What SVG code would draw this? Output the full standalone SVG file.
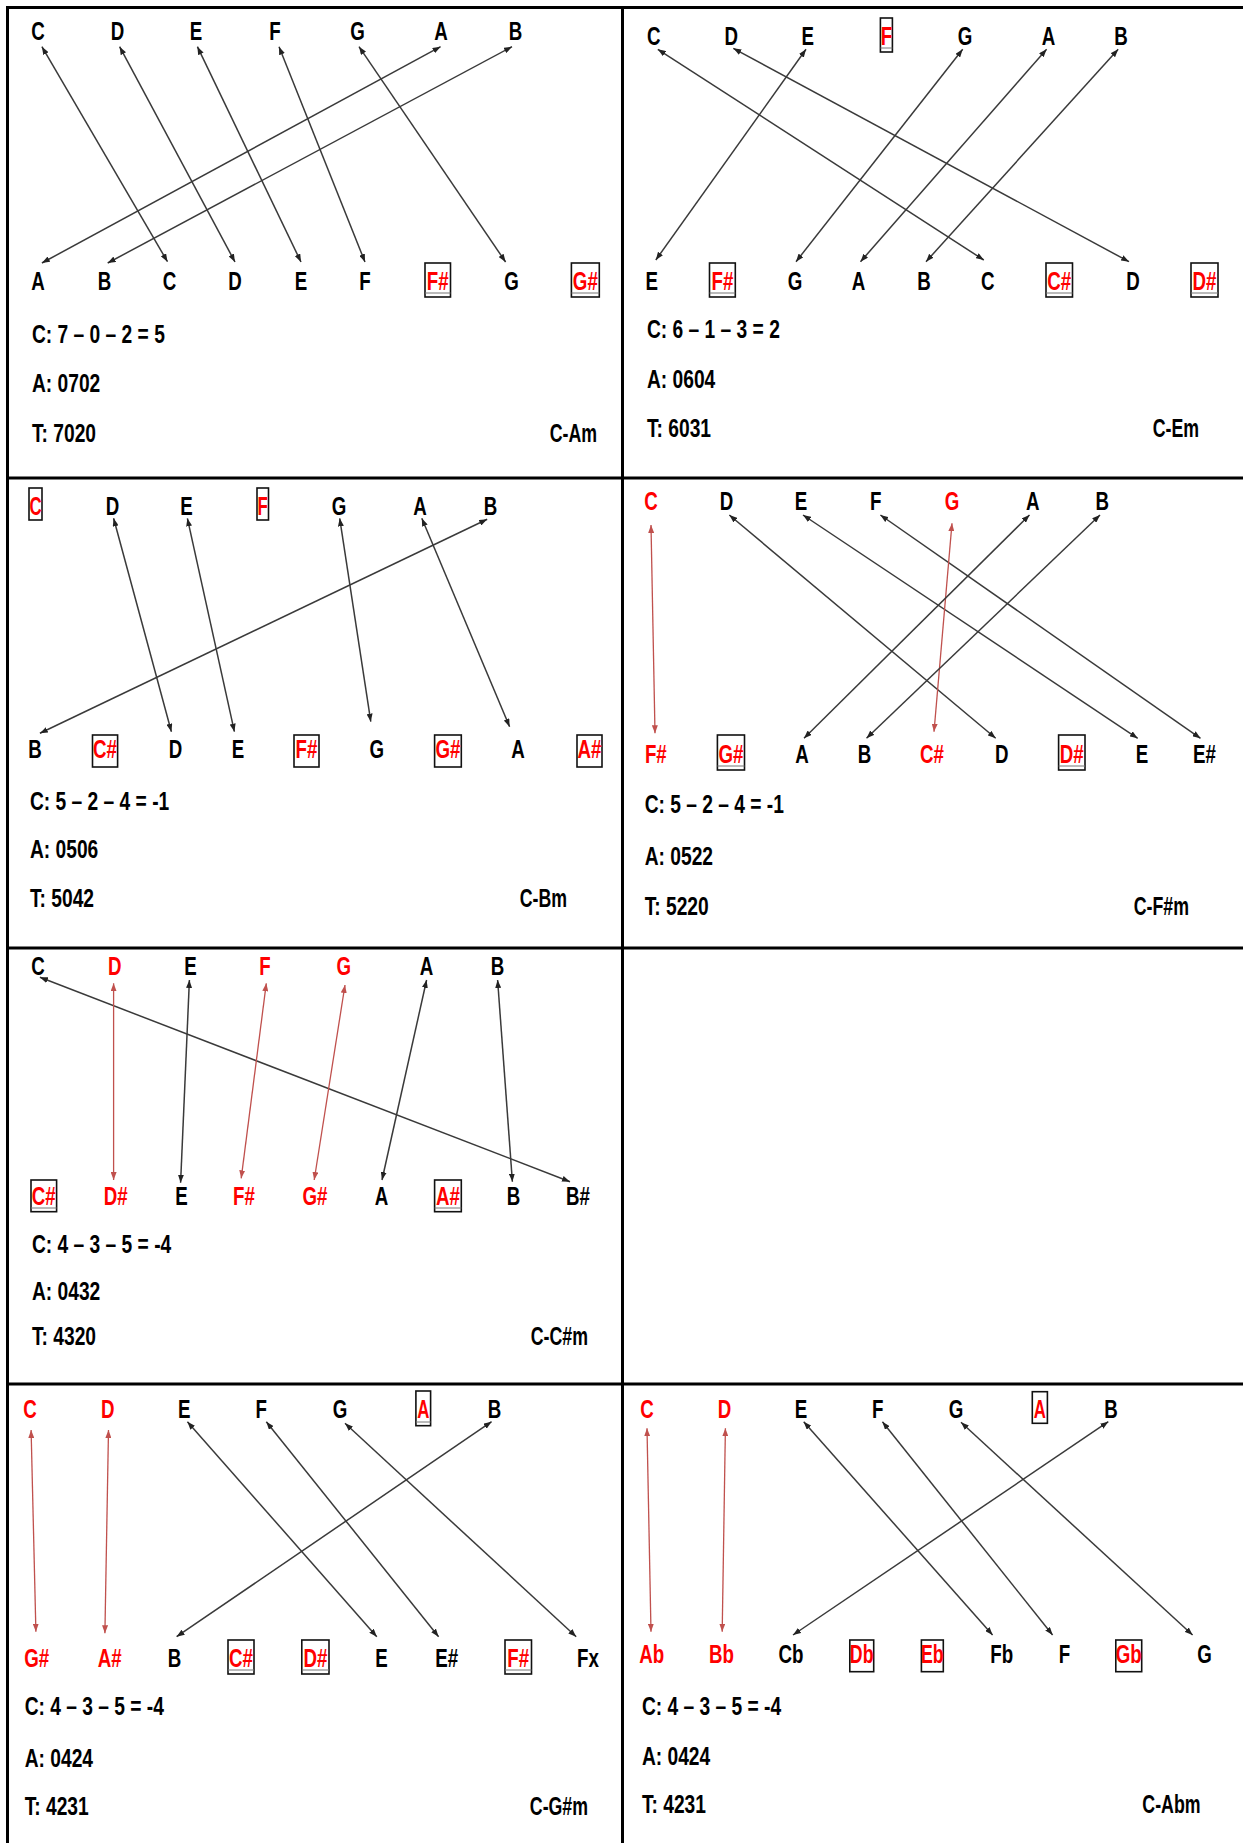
<svg xmlns="http://www.w3.org/2000/svg" width="1243" height="1843" viewBox="0 0 1243 1843">
<style>
text{font-family:"Liberation Sans",Arial,sans-serif;font-weight:bold;font-size:24px;fill:#000}
.n{text-anchor:middle}
.r{fill:#ff0000}
.e{text-anchor:end}
.bx{fill:none;stroke:#111;stroke-width:1.6}
.db{stroke:#777;stroke-width:1}
.c{stroke:#3a3a3a;stroke-width:1.5;fill:none;marker-start:url(#ah);marker-end:url(#ah)}
.cr{stroke:#c0504d;stroke-width:1.3;fill:none;marker-start:url(#ahr);marker-end:url(#ahr)}
.grid{stroke:#000;stroke-width:3;fill:none}
</style>
<defs>
<marker id="ah" viewBox="0 0 8 6" refX="8" refY="3" markerWidth="8" markerHeight="6" markerUnits="userSpaceOnUse" orient="auto-start-reverse"><path d="M0,0 L8,3 L0,6 z" fill="#222"/></marker>
<marker id="ahr" viewBox="0 0 8 6" refX="8" refY="3" markerWidth="8" markerHeight="6" markerUnits="userSpaceOnUse" orient="auto-start-reverse"><path d="M0,0 L8,3 L0,6 z" fill="#c0504d"/></marker>
</defs>
<rect width="1243" height="1843" fill="#fff"/>
<g id="grid" class="grid">
<line x1="7.5" y1="6" x2="7.5" y2="1843"/>
<line x1="6" y1="7.5" x2="1243" y2="7.5"/>
<line x1="622.5" y1="6" x2="622.5" y2="1843"/>
<line x1="6" y1="478" x2="1243" y2="478"/>
<line x1="6" y1="948" x2="1243" y2="948"/>
<line x1="6" y1="1384" x2="1243" y2="1384"/>
</g>
<g id="connectors">
<line class="c" x1="41.9" y1="46.7" x2="167.5" y2="261.7"/>
<line class="c" x1="119.6" y1="46.7" x2="235" y2="262"/>
<line class="c" x1="197.4" y1="46.7" x2="301" y2="262"/>
<line class="c" x1="279" y1="46.7" x2="365" y2="262"/>
<line class="c" x1="359" y1="46.7" x2="505.6" y2="262"/>
<line class="c" x1="440.6" y1="46.7" x2="41.9" y2="263"/>
<line class="c" x1="512" y1="46.7" x2="107.7" y2="263"/>
<line class="c" x1="657.8" y1="49.3" x2="983.8" y2="260"/>
<line class="c" x1="733.3" y1="48.3" x2="1129" y2="261.7"/>
<line class="c" x1="806" y1="49.3" x2="655.8" y2="260"/>
<line class="c" x1="962.7" y1="49.3" x2="796" y2="261.7"/>
<line class="c" x1="1046.6" y1="49.3" x2="860.5" y2="261.7"/>
<line class="c" x1="1118.2" y1="49.3" x2="926" y2="261.7"/>
<line class="c" x1="113.6" y1="518.3" x2="171.4" y2="731.7"/>
<line class="c" x1="187.4" y1="518.3" x2="234.4" y2="731.7"/>
<line class="c" x1="339.7" y1="518.3" x2="370.8" y2="721.7"/>
<line class="c" x1="421.8" y1="518.3" x2="509.6" y2="726.7"/>
<line class="c" x1="487.2" y1="519.3" x2="39.9" y2="733.3"/>
<line class="cr" x1="651" y1="525" x2="655" y2="733.3"/>
<line class="c" x1="729.3" y1="515" x2="995.7" y2="738.3"/>
<line class="c" x1="803" y1="515" x2="1137.7" y2="738.3"/>
<line class="c" x1="880.4" y1="515" x2="1200.5" y2="738.3"/>
<line class="cr" x1="952" y1="523.3" x2="934" y2="731.7"/>
<line class="c" x1="1029.5" y1="515" x2="804" y2="738.3"/>
<line class="c" x1="1100" y1="515" x2="866.5" y2="738.3"/>
<line class="c" x1="39.9" y1="977.3" x2="570" y2="1181.7"/>
<line class="cr" x1="113.6" y1="983.3" x2="113.6" y2="1180"/>
<line class="c" x1="189.4" y1="980" x2="180.6" y2="1182.7"/>
<line class="cr" x1="266.3" y1="983.3" x2="241.2" y2="1178.3"/>
<line class="cr" x1="345" y1="985" x2="314.2" y2="1180"/>
<line class="c" x1="426.6" y1="980" x2="382" y2="1180"/>
<line class="c" x1="497.6" y1="980" x2="512.4" y2="1181.7"/>
<line class="cr" x1="31.1" y1="1430" x2="35.9" y2="1631.7"/>
<line class="cr" x1="108.5" y1="1430" x2="104.9" y2="1633.3"/>
<line class="c" x1="187.4" y1="1421.7" x2="376.8" y2="1636.7"/>
<line class="c" x1="266.3" y1="1421.7" x2="438.6" y2="1636.7"/>
<line class="c" x1="345" y1="1423.3" x2="576.2" y2="1636.7"/>
<line class="c" x1="491.6" y1="1421.7" x2="176.6" y2="1636.7"/>
<line class="cr" x1="647" y1="1428.3" x2="651" y2="1631.7"/>
<line class="cr" x1="725.4" y1="1428.3" x2="722.2" y2="1631.7"/>
<line class="c" x1="803.7" y1="1421.7" x2="992.6" y2="1635"/>
<line class="c" x1="882.4" y1="1421.7" x2="1052.6" y2="1635"/>
<line class="c" x1="961" y1="1422.3" x2="1192.6" y2="1635"/>
<line class="c" x1="1108.3" y1="1421.7" x2="793" y2="1635"/>
</g>
<g id="panel-C-Am">
<g id="am-t-C"><text class="n" transform="translate(38,40) scale(.78,1.05)">C</text></g>
<g id="am-t-D"><text class="n" transform="translate(117.6,40) scale(.78,1.05)">D</text></g>
<g id="am-t-E"><text class="n" transform="translate(196,40) scale(.78,1.05)">E</text></g>
<g id="am-t-F"><text class="n" transform="translate(275,40) scale(.78,1.05)">F</text></g>
<g id="am-t-G"><text class="n" transform="translate(357.6,40) scale(.78,1.05)">G</text></g>
<g id="am-t-A"><text class="n" transform="translate(441,40) scale(.78,1.05)">A</text></g>
<g id="am-t-B"><text class="n" transform="translate(515.5,40) scale(.78,1.05)">B</text></g>
<g id="am-b-A"><text class="n" transform="translate(38,290) scale(.78,1.05)">A</text></g>
<g id="am-b-B"><text class="n" transform="translate(104.5,290) scale(.78,1.05)">B</text></g>
<g id="am-b-C"><text class="n" transform="translate(169.5,290) scale(.78,1.05)">C</text></g>
<g id="am-b-D"><text class="n" transform="translate(235,290) scale(.78,1.05)">D</text></g>
<g id="am-b-E"><text class="n" transform="translate(301,290) scale(.78,1.05)">E</text></g>
<g id="am-b-F"><text class="n" transform="translate(365,290) scale(.78,1.05)">F</text></g>
<g id="am-b-Fs"><rect class="bx" x="425" y="263" width="25.5" height="34"/><line class="db" x1="425" y1="293" x2="450.5" y2="293"/><text class="n r" transform="translate(437.7,290) scale(.78,1.05)">F#</text></g>
<g id="am-b-G"><text class="n" transform="translate(511.6,290) scale(.78,1.05)">G</text></g>
<g id="am-b-Gs"><rect class="bx" x="571.4" y="263" width="27.9" height="34"/><line class="db" x1="571.4" y1="293" x2="599.3" y2="293"/><text class="n r" transform="translate(585.3,290) scale(.78,1.05)">G#</text></g>
<text transform="translate(32,343) scale(.8,1.05)">C: 7 – 0 – 2 = 5</text>
<text transform="translate(32,392) scale(.8,1.05)">A: 0702</text>
<text transform="translate(32,442) scale(.8,1.05)">T: 7020</text>
<text class="e" transform="translate(597,442) scale(.74,1.05)">C-Am</text>
</g>
<g id="panel-C-Em">
<g id="em-t-C"><text class="n" transform="translate(653.8,45) scale(.78,1.05)">C</text></g>
<g id="em-t-D"><text class="n" transform="translate(731.3,45) scale(.78,1.05)">D</text></g>
<g id="em-t-E"><text class="n" transform="translate(807.7,45) scale(.78,1.05)">E</text></g>
<g id="em-t-F"><rect class="bx" x="880.4" y="18" width="12" height="34"/><line class="db" x1="880.4" y1="48" x2="892.4" y2="48"/><text class="n r" transform="translate(886.4,45) scale(.78,1.05)">F</text></g>
<g id="em-t-G"><text class="n" transform="translate(965,45) scale(.78,1.05)">G</text></g>
<g id="em-t-A"><text class="n" transform="translate(1048.6,45) scale(.78,1.05)">A</text></g>
<g id="em-t-B"><text class="n" transform="translate(1121,45) scale(.78,1.05)">B</text></g>
<g id="em-b-E"><text class="n" transform="translate(651.8,290) scale(.78,1.05)">E</text></g>
<g id="em-b-Fs"><rect class="bx" x="709.5" y="263" width="25.8" height="34"/><line class="db" x1="709.5" y1="293" x2="735.3" y2="293"/><text class="n r" transform="translate(722.4,290) scale(.78,1.05)">F#</text></g>
<g id="em-b-G"><text class="n" transform="translate(795,290) scale(.78,1.05)">G</text></g>
<g id="em-b-A"><text class="n" transform="translate(858.6,290) scale(.78,1.05)">A</text></g>
<g id="em-b-B"><text class="n" transform="translate(924,290) scale(.78,1.05)">B</text></g>
<g id="em-b-C"><text class="n" transform="translate(987.8,290) scale(.78,1.05)">C</text></g>
<g id="em-b-Cs"><rect class="bx" x="1046" y="263" width="26.5" height="34"/><line class="db" x1="1046" y1="293" x2="1072.5" y2="293"/><text class="n r" transform="translate(1059.3,290) scale(.78,1.05)">C#</text></g>
<g id="em-b-D"><text class="n" transform="translate(1133,290) scale(.78,1.05)">D</text></g>
<g id="em-b-Ds"><rect class="bx" x="1191" y="263" width="27" height="34"/><line class="db" x1="1191" y1="293" x2="1218" y2="293"/><text class="n r" transform="translate(1204.5,290) scale(.78,1.05)">D#</text></g>
<text transform="translate(647,338) scale(.8,1.05)">C: 6 – 1 – 3 = 2</text>
<text transform="translate(647,388) scale(.8,1.05)">A: 0604</text>
<text transform="translate(647,437) scale(.8,1.05)">T: 6031</text>
<text class="e" transform="translate(1199,437) scale(.74,1.05)">C-Em</text>
</g>
<g id="panel-C-Bm">
<g id="bm-t-C"><rect class="bx" x="29" y="488" width="13" height="32"/><text class="n r" transform="translate(35.5,515) scale(.7,1.05)">C</text></g>
<g id="bm-t-D"><text class="n" transform="translate(112.4,515) scale(.78,1.05)">D</text></g>
<g id="bm-t-E"><text class="n" transform="translate(186.6,515) scale(.78,1.05)">E</text></g>
<g id="bm-t-F"><rect class="bx" x="257" y="488" width="11.5" height="32"/><text class="n r" transform="translate(262.7,515) scale(.7,1.05)">F</text></g>
<g id="bm-t-G"><text class="n" transform="translate(339,515) scale(.78,1.05)">G</text></g>
<g id="bm-t-A"><text class="n" transform="translate(420,515) scale(.78,1.05)">A</text></g>
<g id="bm-t-B"><text class="n" transform="translate(490.4,515) scale(.78,1.05)">B</text></g>
<g id="bm-b-B"><text class="n" transform="translate(35,758) scale(.78,1.05)">B</text></g>
<g id="bm-b-Cs"><rect class="bx" x="92.5" y="735" width="25.1" height="32"/><text class="n r" transform="translate(105,758) scale(.78,1.05)">C#</text></g>
<g id="bm-b-D"><text class="n" transform="translate(175.4,758) scale(.78,1.05)">D</text></g>
<g id="bm-b-E"><text class="n" transform="translate(238,758) scale(.78,1.05)">E</text></g>
<g id="bm-b-Fs"><rect class="bx" x="294" y="735" width="25" height="32"/><text class="n r" transform="translate(306.5,758) scale(.78,1.05)">F#</text></g>
<g id="bm-b-G"><text class="n" transform="translate(376.8,758) scale(.78,1.05)">G</text></g>
<g id="bm-b-Gs"><rect class="bx" x="434.6" y="735" width="26.7" height="32"/><text class="n r" transform="translate(448,758) scale(.78,1.05)">G#</text></g>
<g id="bm-b-A"><text class="n" transform="translate(518,758) scale(.78,1.05)">A</text></g>
<g id="bm-b-As"><rect class="bx" x="577" y="735" width="25" height="32"/><text class="n r" transform="translate(589.5,758) scale(.78,1.05)">A#</text></g>
<text transform="translate(30,810) scale(.8,1.05)">C: 5 – 2 – 4 = -1</text>
<text transform="translate(30,858) scale(.8,1.05)">A: 0506</text>
<text transform="translate(30,906.7) scale(.8,1.05)">T: 5042</text>
<text class="e" transform="translate(567,906.7) scale(.74,1.05)">C-Bm</text>
</g>
<g id="panel-C-Fsm">
<g id="fsm-t-C"><text class="n r" transform="translate(651,510) scale(.78,1.05)">C</text></g>
<g id="fsm-t-D"><text class="n" transform="translate(726.6,510) scale(.78,1.05)">D</text></g>
<g id="fsm-t-E"><text class="n" transform="translate(801,510) scale(.78,1.05)">E</text></g>
<g id="fsm-t-F"><text class="n" transform="translate(875.7,510) scale(.78,1.05)">F</text></g>
<g id="fsm-t-G"><text class="n r" transform="translate(952,510) scale(.78,1.05)">G</text></g>
<g id="fsm-t-A"><text class="n" transform="translate(1032.7,510) scale(.78,1.05)">A</text></g>
<g id="fsm-t-B"><text class="n" transform="translate(1102.3,510) scale(.78,1.05)">B</text></g>
<g id="fsm-b-Fs"><text class="n r" transform="translate(655.8,762.7) scale(.78,1.05)">F#</text></g>
<g id="fsm-b-Gs"><rect class="bx" x="717.4" y="735" width="27.1" height="35"/><line class="db" x1="717.4" y1="766" x2="744.5" y2="766"/><text class="n r" transform="translate(731,762.7) scale(.78,1.05)">G#</text></g>
<g id="fsm-b-A"><text class="n" transform="translate(802,762.7) scale(.78,1.05)">A</text></g>
<g id="fsm-b-B"><text class="n" transform="translate(864.5,762.7) scale(.78,1.05)">B</text></g>
<g id="fsm-b-Cs"><text class="n r" transform="translate(932,762.7) scale(.78,1.05)">C#</text></g>
<g id="fsm-b-D"><text class="n" transform="translate(1001.7,762.7) scale(.78,1.05)">D</text></g>
<g id="fsm-b-Ds"><rect class="bx" x="1058.6" y="735" width="26.4" height="35"/><line class="db" x1="1058.6" y1="766" x2="1085" y2="766"/><text class="n r" transform="translate(1071.8,762.7) scale(.78,1.05)">D#</text></g>
<g id="fsm-b-E"><text class="n" transform="translate(1142,762.7) scale(.78,1.05)">E</text></g>
<g id="fsm-b-Es"><text class="n" transform="translate(1204.5,762.7) scale(.78,1.05)">E#</text></g>
<text transform="translate(644.7,813) scale(.8,1.05)">C: 5 – 2 – 4 = -1</text>
<text transform="translate(644.7,865) scale(.8,1.05)">A: 0522</text>
<text transform="translate(644.7,915) scale(.8,1.05)">T: 5220</text>
<text class="e" transform="translate(1189,915) scale(.74,1.05)">C-F#m</text>
</g>
<g id="panel-C-Csm">
<g id="csm-t-C"><text class="n" transform="translate(37.9,975) scale(.78,1.05)">C</text></g>
<g id="csm-t-D"><text class="n r" transform="translate(114.8,975) scale(.78,1.05)">D</text></g>
<g id="csm-t-E"><text class="n" transform="translate(190.6,975) scale(.78,1.05)">E</text></g>
<g id="csm-t-F"><text class="n r" transform="translate(265,975) scale(.78,1.05)">F</text></g>
<g id="csm-t-G"><text class="n r" transform="translate(343.7,975) scale(.78,1.05)">G</text></g>
<g id="csm-t-A"><text class="n" transform="translate(426.6,975) scale(.78,1.05)">A</text></g>
<g id="csm-t-B"><text class="n" transform="translate(497.6,975) scale(.78,1.05)">B</text></g>
<g id="csm-b-Cs"><rect class="bx" x="31" y="1180" width="25.6" height="31.7"/><line class="db" x1="31" y1="1208" x2="56.6" y2="1208"/><text class="n r" transform="translate(43.8,1205) scale(.78,1.05)">C#</text></g>
<g id="csm-b-Ds"><text class="n r" transform="translate(115.6,1205) scale(.78,1.05)">D#</text></g>
<g id="csm-b-E"><text class="n" transform="translate(181.4,1205) scale(.78,1.05)">E</text></g>
<g id="csm-b-Fs"><text class="n r" transform="translate(244,1205) scale(.78,1.05)">F#</text></g>
<g id="csm-b-Gs"><text class="n r" transform="translate(315,1205) scale(.78,1.05)">G#</text></g>
<g id="csm-b-A"><text class="n" transform="translate(381.6,1205) scale(.78,1.05)">A</text></g>
<g id="csm-b-As"><rect class="bx" x="434.6" y="1180" width="26.7" height="31.7"/><line class="db" x1="434.6" y1="1208" x2="461.3" y2="1208"/><text class="n r" transform="translate(448,1205) scale(.78,1.05)">A#</text></g>
<g id="csm-b-B"><text class="n" transform="translate(513.6,1205) scale(.78,1.05)">B</text></g>
<g id="csm-b-Bs"><text class="n" transform="translate(578,1205) scale(.78,1.05)">B#</text></g>
<text transform="translate(32,1253) scale(.8,1.05)">C: 4 – 3 – 5 = -4</text>
<text transform="translate(32,1300) scale(.8,1.05)">A: 0432</text>
<text transform="translate(32,1345) scale(.8,1.05)">T: 4320</text>
<text class="e" transform="translate(588,1345) scale(.74,1.05)">C-C#m</text>
</g>
<g id="panel-C-Gsm">
<g id="gsm-t-C"><text class="n r" transform="translate(29.9,1418) scale(.78,1.05)">C</text></g>
<g id="gsm-t-D"><text class="n r" transform="translate(107.7,1418) scale(.78,1.05)">D</text></g>
<g id="gsm-t-E"><text class="n" transform="translate(184.2,1418) scale(.78,1.05)">E</text></g>
<g id="gsm-t-F"><text class="n" transform="translate(261.2,1418) scale(.78,1.05)">F</text></g>
<g id="gsm-t-G"><text class="n" transform="translate(340,1418) scale(.78,1.05)">G</text></g>
<g id="gsm-t-A"><rect class="bx" x="415.9" y="1391" width="14.7" height="34.7"/><line class="db" x1="415.9" y1="1422" x2="430.6" y2="1422"/><text class="n r" transform="translate(423.3,1418) scale(.7,1.05)">A</text></g>
<g id="gsm-t-B"><text class="n" transform="translate(494.4,1418) scale(.78,1.05)">B</text></g>
<g id="gsm-b-Gs"><text class="n r" transform="translate(36.7,1666.7) scale(.78,1.05)">G#</text></g>
<g id="gsm-b-As"><text class="n r" transform="translate(109.6,1666.7) scale(.78,1.05)">A#</text></g>
<g id="gsm-b-B"><text class="n" transform="translate(174.6,1666.7) scale(.78,1.05)">B</text></g>
<g id="gsm-b-Cs"><rect class="bx" x="228" y="1640" width="26" height="34"/><line class="db" x1="228" y1="1670" x2="254" y2="1670"/><text class="n r" transform="translate(241,1666.7) scale(.78,1.05)">C#</text></g>
<g id="gsm-b-Ds"><rect class="bx" x="301.8" y="1640" width="27.2" height="34"/><line class="db" x1="301.8" y1="1670" x2="329" y2="1670"/><text class="n r" transform="translate(315.4,1666.7) scale(.78,1.05)">D#</text></g>
<g id="gsm-b-E"><text class="n" transform="translate(381.6,1666.7) scale(.78,1.05)">E</text></g>
<g id="gsm-b-Es"><text class="n" transform="translate(446.6,1666.7) scale(.78,1.05)">E#</text></g>
<g id="gsm-b-Fs"><rect class="bx" x="505" y="1640" width="26.5" height="34"/><line class="db" x1="505" y1="1670" x2="531.5" y2="1670"/><text class="n r" transform="translate(518.2,1666.7) scale(.78,1.05)">F#</text></g>
<g id="gsm-b-Fx"><text class="n" transform="translate(588,1666.7) scale(.78,1.05)">Fx</text></g>
<text transform="translate(24.7,1715) scale(.8,1.05)">C: 4 – 3 – 5 = -4</text>
<text transform="translate(24.7,1766.7) scale(.8,1.05)">A: 0424</text>
<text transform="translate(24.7,1815) scale(.8,1.05)">T: 4231</text>
<text class="e" transform="translate(588,1815) scale(.74,1.05)">C-G#m</text>
</g>
<g id="panel-C-Abm">
<g id="abm-t-C"><text class="n r" transform="translate(647,1418) scale(.78,1.05)">C</text></g>
<g id="abm-t-D"><text class="n r" transform="translate(724.6,1418) scale(.78,1.05)">D</text></g>
<g id="abm-t-E"><text class="n" transform="translate(801,1418) scale(.78,1.05)">E</text></g>
<g id="abm-t-F"><text class="n" transform="translate(877.7,1418) scale(.78,1.05)">F</text></g>
<g id="abm-t-G"><text class="n" transform="translate(956,1418) scale(.78,1.05)">G</text></g>
<g id="abm-t-A"><rect class="bx" x="1032.3" y="1391.7" width="15.1" height="31.6"/><text class="n r" transform="translate(1039.8,1418) scale(.7,1.05)">A</text></g>
<g id="abm-t-B"><text class="n" transform="translate(1111,1418) scale(.78,1.05)">B</text></g>
<g id="abm-b-Ab"><text class="n r" transform="translate(651.8,1663) scale(.78,1.05)">Ab</text></g>
<g id="abm-b-Bb"><text class="n r" transform="translate(721.4,1663) scale(.78,1.05)">Bb</text></g>
<g id="abm-b-Cb"><text class="n" transform="translate(791,1663) scale(.78,1.05)">Cb</text></g>
<g id="abm-b-Db"><rect class="bx" x="849.8" y="1640" width="23.9" height="31.7"/><text class="n r" transform="translate(861.7,1663) scale(.74,1.05)">Db</text></g>
<g id="abm-b-Eb"><rect class="bx" x="921.4" y="1640" width="21.9" height="31.7"/><text class="n r" transform="translate(932.3,1663) scale(.74,1.05)">Eb</text></g>
<g id="abm-b-Fb"><text class="n" transform="translate(1001.7,1663) scale(.78,1.05)">Fb</text></g>
<g id="abm-b-F"><text class="n" transform="translate(1064.5,1663) scale(.78,1.05)">F</text></g>
<g id="abm-b-Gb"><rect class="bx" x="1115.8" y="1640" width="25.9" height="31.7"/><text class="n r" transform="translate(1128.7,1663) scale(.78,1.05)">Gb</text></g>
<g id="abm-b-G"><text class="n" transform="translate(1204.5,1663) scale(.78,1.05)">G</text></g>
<text transform="translate(641.9,1715) scale(.8,1.05)">C: 4 – 3 – 5 = -4</text>
<text transform="translate(641.9,1765) scale(.8,1.05)">A: 0424</text>
<text transform="translate(641.9,1813) scale(.8,1.05)">T: 4231</text>
<text class="e" transform="translate(1200.5,1813) scale(.74,1.05)">C-Abm</text>
</g>
</svg>
